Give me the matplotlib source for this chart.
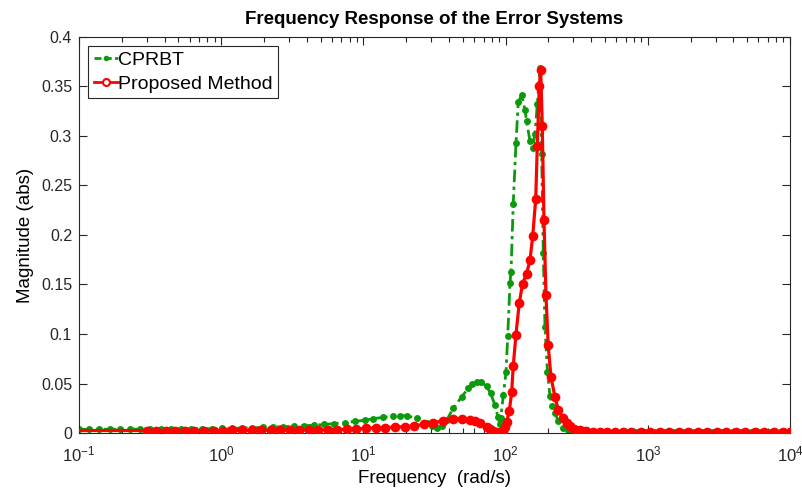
import matplotlib
matplotlib.use("Agg")
import numpy as np
from matplotlib import pyplot as plt
from matplotlib.lines import Line2D
from matplotlib.ticker import FixedLocator, FuncFormatter, LogLocator

# CPRBT error system, |E(jw)|
cprbt_freq = [0.1, 0.118, 0.139, 0.164, 0.194, 0.229, 0.270, 0.318, 0.376, 0.443,
              0.523, 0.617, 0.728, 0.859, 1.01, 1.20, 1.41, 1.66, 1.96, 2.32,
              2.73, 3.23, 3.81, 4.49, 5.30, 6.26, 7.38, 8.71, 10.3, 11.7,
              13.8, 16.2, 18.2, 20.2, 23.7, 27.9, 30.5, 32.7, 35.5, 38.5,
              42.9, 49.0, 54.7, 58.5, 62.7, 67.5, 73.6, 78.5, 84.2, 88.5,
              91.4, 92.4, 96.4, 100.7, 103.5, 107.4, 109.2, 113.2, 118.3, 122.8,
              129.7, 136.8, 140.6, 148.6, 155.2, 161.0, 167.1, 174.6, 179.4, 184.1,
              189.2, 197.0, 205.1, 213.0, 222.3, 234.9, 254.7, 275.0, 300.0, 340.0,
              390.0, 450.0, 520.0, 600.0, 700.0, 820.0, 960.0, 1120.0, 1310.0, 1530.0,
              1790.0, 2090.0, 2440.0, 2850.0, 3330.0, 3890.0, 4540.0, 5300.0, 6190.0, 7230.0,
              8450.0, 10000.0]
cprbt_mag = [0.0037, 0.0037, 0.0037, 0.0038, 0.0038, 0.0038, 0.0039, 0.0039, 0.0040, 0.0040,
             0.0041, 0.0042, 0.0043, 0.0044, 0.0046, 0.0048, 0.0050, 0.0053, 0.0056, 0.0060,
             0.0064, 0.0068, 0.0073, 0.0079, 0.0086, 0.0095, 0.0105, 0.0117, 0.0130, 0.0145,
             0.0158, 0.0170, 0.0176, 0.0172, 0.0150, 0.0105, 0.0075, 0.0052, 0.0075, 0.0130,
             0.0250, 0.0365, 0.0450, 0.0490, 0.0515, 0.0515, 0.0470, 0.0400, 0.0280, 0.0160,
             0.0090, 0.0148, 0.0380, 0.0615, 0.0975, 0.1515, 0.1630, 0.2315, 0.2925, 0.3340,
             0.3415, 0.3265, 0.3150, 0.2945, 0.2875, 0.3024, 0.3320, 0.3687, 0.2823, 0.1814,
             0.1075, 0.0620, 0.0373, 0.0270, 0.0205, 0.0118, 0.0050, 0.0030, 0.0020, 0.0014,
             0.0011, 0.0010, 0.0009, 0.0009, 0.0008, 0.0008, 0.0008, 0.0008, 0.0008, 0.0008,
             0.0008, 0.0008, 0.0008, 0.0008, 0.0008, 0.0008, 0.0008, 0.0008, 0.0008, 0.0008,
             0.0008, 0.0008]

# proposed method error system
prop_freq = [0.1, 0.30, 0.35, 0.41, 0.477, 0.556, 0.649, 0.757, 0.884, 1.03,
             1.20, 1.40, 1.64, 1.91, 2.23, 2.60, 3.04, 3.54, 4.13, 4.82,
             5.63, 6.57, 7.66, 8.94, 10.5, 12.2, 14.2, 16.6, 19.6, 22.6,
             26.7, 31.0, 36.5, 42.9, 49.0, 56.0, 61.0, 66.0, 73.6, 78.0,
             82.0, 85.5, 89.0, 92.5, 95.5, 99.0, 101.9, 106.2, 110.4, 113.2,
             118.3, 124.7, 131.8, 140.6, 148.6, 155.2, 162.9, 167.1, 172.6, 176.6,
             181.1, 186.2, 192.3, 199.5, 208.4, 222.3, 235.0, 254.7, 270.0, 283.8,
             305.0, 333.4, 370.0, 412.1, 460.0, 520.0, 590.0, 670.0, 762.0, 889.0,
             1037.0, 1210.0, 1412.0, 1647.0, 1922.0, 2242.0, 2616.0, 3053.0, 3562.0, 4156.0,
             4849.0, 5658.0, 6601.0, 7702.0, 8987.0, 10000.0]
prop_mag = [0.0025, 0.0025, 0.0025, 0.0025, 0.0025, 0.0025, 0.0025, 0.0025, 0.0025, 0.0025,
            0.0026, 0.0026, 0.0026, 0.0027, 0.0027, 0.0028, 0.0028, 0.0029, 0.0030, 0.0031,
            0.0033, 0.0035, 0.0038, 0.0042, 0.0047, 0.0051, 0.0055, 0.0059, 0.0063, 0.0072,
            0.0088, 0.0104, 0.0124, 0.0138, 0.0145, 0.0135, 0.0120, 0.0098, 0.0064, 0.0040,
            0.0020, 0.0008, 0.0003, 0.0008, 0.0020, 0.0060, 0.0114, 0.0220, 0.0416, 0.0675,
            0.0994, 0.1310, 0.1510, 0.1610, 0.1750, 0.1990, 0.2365, 0.2900, 0.3500, 0.3670,
            0.3105, 0.2147, 0.1390, 0.0887, 0.0568, 0.0366, 0.0230, 0.0148, 0.0100, 0.0070,
            0.0045, 0.0027, 0.0018, 0.0013, 0.0011, 0.0010, 0.0009, 0.0009, 0.0009, 0.0008,
            0.0008, 0.0008, 0.0008, 0.0008, 0.0008, 0.0008, 0.0008, 0.0008, 0.0008, 0.0008,
            0.0008, 0.0008, 0.0008, 0.0008, 0.0008, 0.0008]

y_ticks = [0, 0.05, 0.1, 0.15, 0.2, 0.25, 0.3, 0.35, 0.4]

green = "#0b9a0b"
red = "#ff0000"

plt.rcParams["font.family"] = ["Liberation Sans", "DejaVu Sans"]
plt.rcParams["mathtext.fontset"] = "custom"
plt.rcParams["mathtext.rm"] = "Liberation Sans"

fig = plt.figure(figsize=(8.02, 4.88), dpi=100)
ax = fig.add_axes([0.0985, 0.1127, 0.8865, 0.8115])

ax.plot(cprbt_freq, cprbt_mag, color=green, linestyle=(0, (4.5, 1.6, 1.2, 1.6)), linewidth=2.0,
        marker="o", markersize=5.0, markeredgewidth=0, zorder=2)
ax.plot(prop_freq, prop_mag, color=red, linestyle="-", linewidth=2.3,
        marker="o", markersize=7.0, markeredgewidth=0, markevery=list(range(1, len(prop_freq))), zorder=3)

ax.set_xscale("log")
ax.set_xlim(0.1, 1e4)
ax.set_ylim(0, 0.4)
ax.yaxis.set_major_locator(FixedLocator(y_ticks))
ax.yaxis.set_major_formatter(FuncFormatter(lambda v, p: "%g" % v))
ax.xaxis.set_major_locator(LogLocator(base=10, numticks=10))
ax.xaxis.set_minor_locator(LogLocator(base=10, subs=np.arange(2, 10), numticks=20))

ax.tick_params(which="both", direction="in", top=True, right=True, labelsize=11.5, colors="#262626")
ax.tick_params(which="major", length=6, width=0.8)
ax.tick_params(axis="y", which="major", pad=5)
ax.tick_params(axis="x", which="major", pad=8, labelsize=12)
ax.tick_params(which="minor", length=3.5, width=0.8)
for s in ax.spines.values():
    s.set_color("#262626")
    s.set_linewidth(0.8)

ax.set_title("Frequency Response of the Error Systems", fontsize=13.5, fontweight="bold", pad=9)
ax.set_xlabel("Frequency  (rad/s)", fontsize=13.5, labelpad=4)
ax.set_ylabel("Magnitude (abs)", fontsize=13.5, labelpad=5)

handles = [
    Line2D([], [], color=green, linestyle=(0, (2.5, 1.2)), linewidth=2.0, marker="o",
           markersize=4, markeredgewidth=0),
    Line2D([], [], color=red, linestyle="-", linewidth=2.0, marker="o", markersize=5,
           markerfacecolor="white", markeredgecolor=red, markeredgewidth=1.5),
]
leg = ax.legend(handles, ["CPRBT", "Proposed Method"], loc="upper left", fontsize=14,
                handlelength=1.25, handletextpad=0.0, borderpad=0.3, labelspacing=0.3,
                borderaxespad=0.45, fancybox=False, framealpha=1, edgecolor="#262626",
                markerfirst=True)
leg.get_frame().set_linewidth(0.8)

fig.savefig("out.png", dpi=100)
